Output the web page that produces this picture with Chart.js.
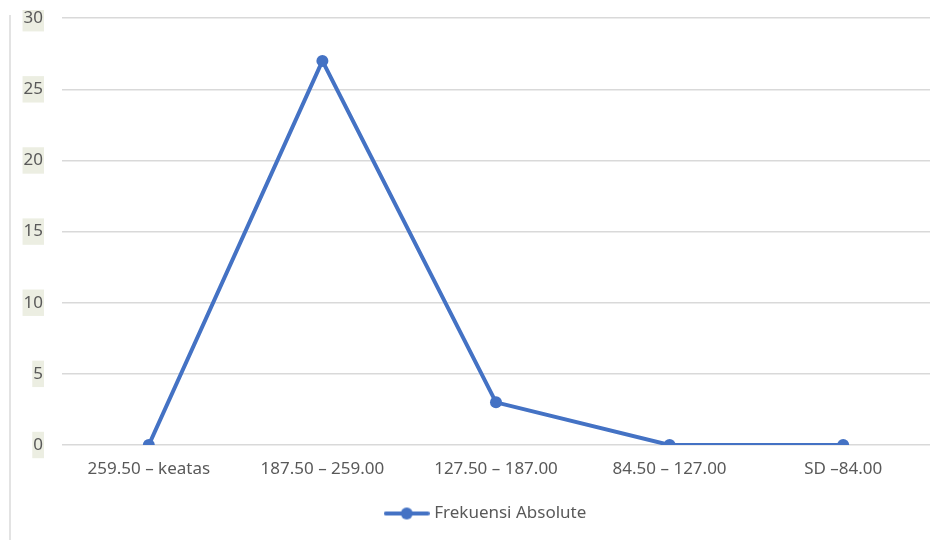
<!DOCTYPE html>
<html>
<head>
<meta charset="utf-8">
<script src="https://cdn.jsdelivr.net/npm/chart.js@4.4.0/dist/chart.umd.min.js"></script>
<style>
  html, body { margin: 0; padding: 0; background: #fff; }
  #wrap { position: absolute; left: 0; top: 0; width: 942px; height: 540px; overflow: hidden; }
  #clip { position: absolute; left: 0; top: 10px; width: 942px; height: 530px; overflow: hidden; }
  #c { position: absolute; left: 0; top: -21px; }
  #vline { position: absolute; left: 9px; top: 15px; width: 2px; height: 525px; background: #e3e3e3; }
</style>
</head>
<body>
<div id="wrap">
  <div id="vline"></div>
  <div id="clip"><canvas id="c" width="942" height="551"></canvas></div>
</div>
<script>
const categories = ['259.50 – keatas', '187.50 – 259.00', '127.50 – 187.00', '84.50 – 127.00', 'SD –84.00'];
const seriesName = 'Frekuensi Absolute';
const seriesValues = [0, 27, 3, 0, 0];
const yTicks = [0, 5, 10, 15, 20, 25, 30];

const FONT = "'Noto Sans', sans-serif";
const BLUE = '#4472C4';
const TEXT = '#595959';

// legend marker: line with a dot
const mk = document.createElement('canvas');
mk.width = 46; mk.height = 14;
(function () {
  const g = mk.getContext('2d');
  g.strokeStyle = BLUE; g.lineWidth = 4; g.lineCap = 'round';
  g.beginPath(); g.moveTo(2, 7); g.lineTo(44, 7); g.stroke();
  g.fillStyle = BLUE; g.beginPath(); g.arc(23, 7, 6, 0, Math.PI * 2); g.fill();
})();

// centre the legend under the plot like the original
const legendShift = {
  id: 'legendShift',
  afterLayout(chart) {
    const lg = chart.legend;
    if (lg) { lg.left += 22; lg.right += 22; }
  }
};

new Chart(document.getElementById('c'), {
  type: 'line',
  data: {
    labels: categories,
    datasets: [{
      label: seriesName,
      data: seriesValues,
      borderColor: BLUE,
      backgroundColor: BLUE,
      borderWidth: 4,
      pointRadius: 6,
      pointHoverRadius: 6,
      pointBackgroundColor: BLUE,
      pointBorderWidth: 0,
      tension: 0
    }]
  },
  plugins: [legendShift],
  options: {
    responsive: false,
    animation: false,
    layout: { padding: { top: 5, right: 12, bottom: 8, left: 0 } },
    plugins: {
      tooltip: { enabled: false },
      legend: {
        position: 'bottom',
        labels: {
          usePointStyle: true,
          pointStyle: mk,
          pointStyleWidth: 38,
          boxHeight: 14,
          color: TEXT,
          font: { family: FONT, size: 17 },
          padding: 10
        }
      }
    },
    scales: {
      x: {
        offset: true,
        grid: { display: false },
        border: { display: false },
        ticks: { color: TEXT, font: { family: FONT, size: 17 }, padding: 6, maxRotation: 0 },
        afterFit(s) { s.height = 50; }
      },
      y: {
        min: 0, max: 30,
        afterBuildTicks(s) { s.ticks = yTicks.map(v => ({ value: v })); },
        grid: { color: '#d9d9d9', lineWidth: 1.5, drawTicks: false },
        border: { display: false },
        ticks: {
          color: TEXT, font: { family: FONT, size: 17 }, padding: 19,
          showLabelBackdrop: true, backdropColor: '#eceee2',
          backdropPadding: { top: 3, bottom: 3, left: 1, right: 1 }
        },
        afterFit(s) { s.width = 62; }
      }
    }
  }
});
</script>
</body>
</html>
